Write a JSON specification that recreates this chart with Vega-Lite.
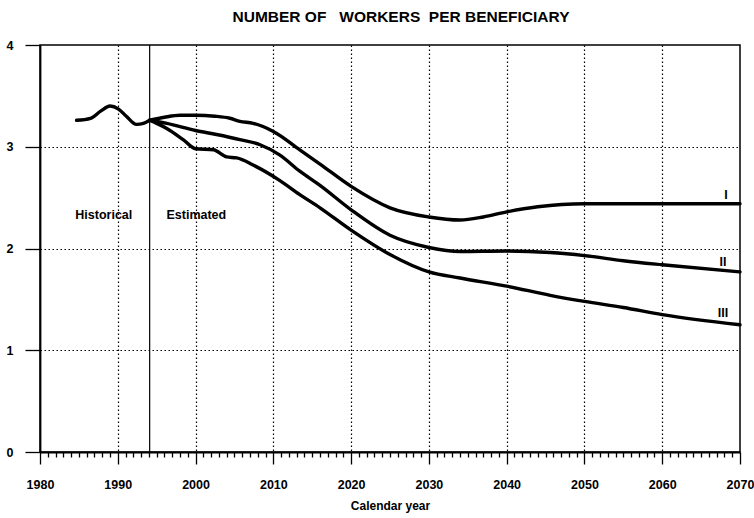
{
  "$schema": "https://vega.github.io/schema/vega-lite/v6.json",
  "width": 700,
  "height": 407,
  "autosize": {"type": "none"},
  "padding": {"left": 40, "top": 45, "right": 14, "bottom": 66},
  "background": "white",
  "title": {
    "text": "NUMBER OF\u00a0\u00a0 WORKERS\u00a0 PER BENEFICIARY",
    "font": "Liberation Sans",
    "fontSize": 15.5,
    "fontWeight": "bold",
    "color": "black",
    "anchor": "middle",
    "frame": "group",
    "dx": 11,
    "baseline": "alphabetic",
    "offset": 2
  },
  "config": {
    "view": {"stroke": "black", "strokeWidth": 1.5},
    "axis": {
      "labelFont": "Liberation Sans",
      "labelFontWeight": "bold",
      "labelColor": "black",
      "titleFont": "Liberation Sans",
      "titleFontWeight": "bold",
      "titleColor": "black",
      "domainColor": "black",
      "domainWidth": 1.8,
      "tickColor": "black",
      "tickWidth": 1.3,
      "gridColor": "black",
      "gridWidth": 1.2,
      "gridDash": [1.5, 2.5]
    }
  },
  "datasets": {
    "lines": [
      {"series": "H", "year": 1984.7, "value": 3.26},
      {"series": "H", "year": 1986.5, "value": 3.28},
      {"series": "H", "year": 1987.8, "value": 3.35},
      {"series": "H", "year": 1989.0, "value": 3.40},
      {"series": "H", "year": 1990.1, "value": 3.37},
      {"series": "H", "year": 1991.1, "value": 3.30},
      {"series": "H", "year": 1992.4, "value": 3.22},
      {"series": "H", "year": 1993.3, "value": 3.23},
      {"series": "H", "year": 1994.1, "value": 3.26},
      {"series": "I", "year": 1994.1, "value": 3.26},
      {"series": "I", "year": 1996, "value": 3.29},
      {"series": "I", "year": 1998, "value": 3.31},
      {"series": "I", "year": 2000, "value": 3.31},
      {"series": "I", "year": 2002.5, "value": 3.30},
      {"series": "I", "year": 2004.4, "value": 3.28},
      {"series": "I", "year": 2005.7, "value": 3.25},
      {"series": "I", "year": 2007.4, "value": 3.23},
      {"series": "I", "year": 2010, "value": 3.15},
      {"series": "I", "year": 2013.4, "value": 2.97},
      {"series": "I", "year": 2016, "value": 2.83},
      {"series": "I", "year": 2020, "value": 2.61},
      {"series": "I", "year": 2025, "value": 2.40},
      {"series": "I", "year": 2030, "value": 2.31},
      {"series": "I", "year": 2034, "value": 2.28},
      {"series": "I", "year": 2037, "value": 2.31},
      {"series": "I", "year": 2040, "value": 2.36},
      {"series": "I", "year": 2044, "value": 2.41},
      {"series": "I", "year": 2050, "value": 2.44},
      {"series": "I", "year": 2060, "value": 2.44},
      {"series": "I", "year": 2070, "value": 2.44},
      {"series": "II", "year": 1994.1, "value": 3.26},
      {"series": "II", "year": 1996.3, "value": 3.23},
      {"series": "II", "year": 2000, "value": 3.16},
      {"series": "II", "year": 2002.7, "value": 3.12},
      {"series": "II", "year": 2005.7, "value": 3.07},
      {"series": "II", "year": 2008.3, "value": 3.02},
      {"series": "II", "year": 2010.8, "value": 2.92},
      {"series": "II", "year": 2013.4, "value": 2.76},
      {"series": "II", "year": 2016, "value": 2.62},
      {"series": "II", "year": 2020, "value": 2.38},
      {"series": "II", "year": 2025, "value": 2.13},
      {"series": "II", "year": 2030, "value": 2.01},
      {"series": "II", "year": 2034, "value": 1.97},
      {"series": "II", "year": 2040, "value": 1.975},
      {"series": "II", "year": 2045.6, "value": 1.96},
      {"series": "II", "year": 2050, "value": 1.93},
      {"series": "II", "year": 2055, "value": 1.88},
      {"series": "II", "year": 2060, "value": 1.84},
      {"series": "II", "year": 2070, "value": 1.77},
      {"series": "III", "year": 1994.1, "value": 3.26},
      {"series": "III", "year": 1995, "value": 3.23},
      {"series": "III", "year": 1996.3, "value": 3.18},
      {"series": "III", "year": 1998.4, "value": 3.07},
      {"series": "III", "year": 2000, "value": 2.98},
      {"series": "III", "year": 2002.3, "value": 2.97},
      {"series": "III", "year": 2004, "value": 2.90},
      {"series": "III", "year": 2005.3, "value": 2.89},
      {"series": "III", "year": 2007.4, "value": 2.82},
      {"series": "III", "year": 2010.8, "value": 2.67},
      {"series": "III", "year": 2013.4, "value": 2.53},
      {"series": "III", "year": 2016, "value": 2.40},
      {"series": "III", "year": 2020, "value": 2.18},
      {"series": "III", "year": 2025, "value": 1.94},
      {"series": "III", "year": 2030, "value": 1.77},
      {"series": "III", "year": 2034, "value": 1.71},
      {"series": "III", "year": 2040, "value": 1.63},
      {"series": "III", "year": 2045.6, "value": 1.54},
      {"series": "III", "year": 2050, "value": 1.48},
      {"series": "III", "year": 2055, "value": 1.42},
      {"series": "III", "year": 2060, "value": 1.35},
      {"series": "III", "year": 2070, "value": 1.25}
    ],
    "notes": [
      {"label": "Historical", "year": 1988.2, "value": 2.33},
      {"label": "Estimated", "year": 2000.1, "value": 2.33},
      {"label": "I", "year": 2068.2, "value": 2.53},
      {"label": "II", "year": 2067.8, "value": 1.87},
      {"label": "III", "year": 2067.8, "value": 1.37}
    ],
    "divider": [{"year": 1994.1}]
  },
  "layer": [
    {
      "data": {"name": "divider"},
      "mark": {"type": "rule", "color": "black", "strokeWidth": 1.2},
      "encoding": {
        "x": {
          "field": "year",
          "type": "quantitative",
          "scale": {"domain": [1980, 2070], "nice": false, "zero": false},
          "axis": {
            "values": [1980,1981,1982,1983,1984,1985,1986,1987,1988,1989,1990,1991,1992,1993,1994,1995,1996,1997,1998,1999,2000,2001,2002,2003,2004,2005,2006,2007,2008,2009,2010,2011,2012,2013,2014,2015,2016,2017,2018,2019,2020,2021,2022,2023,2024,2025,2026,2027,2028,2029,2030,2031,2032,2033,2034,2035,2036,2037,2038,2039,2040,2041,2042,2043,2044,2045,2046,2047,2048,2049,2050,2051,2052,2053,2054,2055,2056,2057,2058,2059,2060,2061,2062,2063,2064,2065,2066,2067,2068,2069,2070],
            "tickCount": 200,
            "format": "d",
            "labelExpr": "datum.value % 10 === 0 ? datum.label : ''",
            "labelFontSize": 12.5,
            "labelPadding": 14,
            "labelFlush": false,
            "labelOverlap": false,
            "tickSize": {"condition": {"test": "datum.value % 10 === 0", "value": 12}, "value": 5},
            "grid": true,
            "gridOpacity": {"condition": {"test": "datum.value % 10 === 0 && datum.value > 1980 && datum.value < 2070", "value": 1}, "value": 0},
            "title": "Calendar year",
            "titleFontSize": 12,
            "titlePadding": 10
          }
        },
        "y": {"datum": 0, "type": "quantitative"},
        "y2": {"datum": 4}
      }
    },
    {
      "data": {"name": "lines"},
      "mark": {"type": "line", "color": "black", "strokeWidth": 3.4, "interpolate": "monotone", "strokeCap": "round", "strokeJoin": "round"},
      "encoding": {
        "x": {"field": "year", "type": "quantitative"},
        "y": {
          "field": "value",
          "type": "quantitative",
          "scale": {"domain": [0, 4], "nice": false},
          "axis": {
            "values": [0, 1, 2, 3, 4],
            "format": "d",
            "labelFontSize": 12.5,
            "tickSize": 15,
            "labelPadding": 12,
            "grid": true,
            "gridOpacity": {"condition": {"test": "datum.value > 0 && datum.value < 4", "value": 1}, "value": 0},
            "title": null
          }
        },
        "detail": {"field": "series", "type": "nominal"}
      }
    },
    {
      "data": {"name": "notes"},
      "mark": {"type": "text", "font": "Liberation Sans", "fontWeight": "bold", "fontSize": 12.5, "color": "black", "baseline": "middle", "align": "center"},
      "encoding": {
        "x": {"field": "year", "type": "quantitative"},
        "y": {"field": "value", "type": "quantitative"},
        "text": {"field": "label"}
      }
    }
  ]
}
